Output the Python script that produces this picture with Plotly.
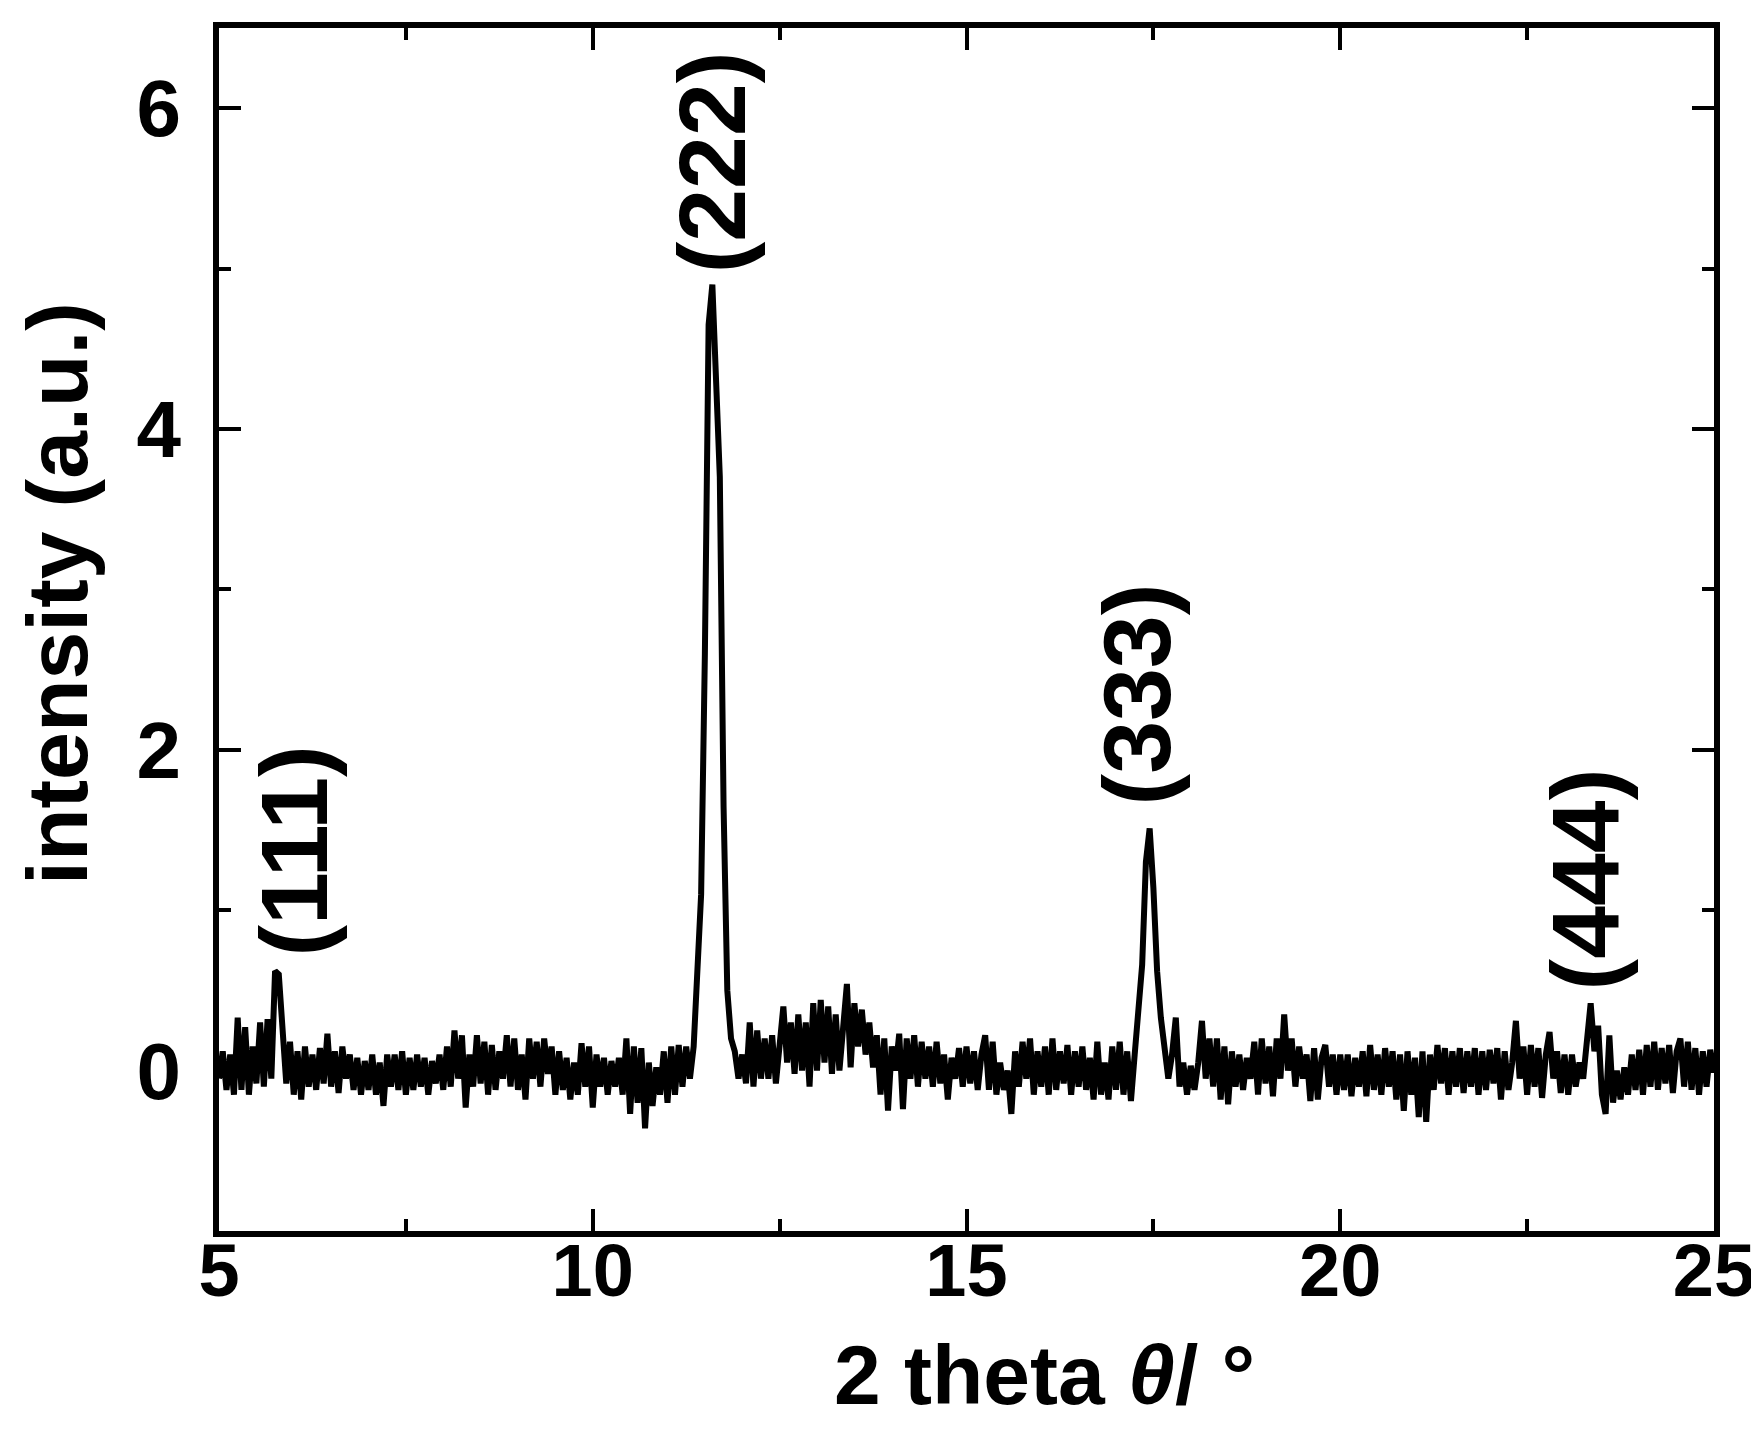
import plotly.graph_objects as go

# intensity, 0.05 deg steps, one list per degree of 2 theta
seg_05 = [-0.05, 0.12, -0.12, 0.10, -0.15, 0.33, -0.12, 0.27, -0.15, 0.15,
          -0.08, 0.30, -0.10, 0.32, -0.05, 0.62, 0.60, 0.20, -0.08, 0.18]
seg_06 = [-0.15, 0.12, -0.18, 0.15, -0.10, 0.10, -0.12, 0.14, -0.08, 0.23,
          -0.10, 0.12, -0.14, 0.15, -0.05, 0.10, -0.12, 0.08, -0.15, 0.06]
seg_07 = [-0.12, 0.10, -0.15, 0.05, -0.22, 0.10, -0.10, 0.10, -0.12, 0.12,
          -0.15, 0.08, -0.12, 0.10, -0.10, 0.08, -0.15, 0.06, -0.08, 0.10]
seg_08 = [-0.12, 0.15, -0.10, 0.25, -0.05, 0.22, -0.23, 0.10, -0.10, 0.22,
          -0.08, 0.18, -0.15, 0.16, -0.12, 0.12, -0.05, 0.22, -0.10, 0.20]
seg_09 = [-0.12, 0.10, -0.18, 0.20, -0.05, 0.18, -0.10, 0.20, -0.02, 0.15,
          -0.15, 0.12, -0.12, 0.08, -0.18, 0.05, -0.15, 0.17, -0.10, 0.15]
seg_10 = [-0.23, 0.10, -0.10, 0.08, -0.15, 0.06, -0.10, 0.08, -0.15, 0.20,
          -0.27, 0.15, -0.20, 0.14, -0.36, 0.05, -0.22, 0.02, -0.15, 0.12]
seg_11 = [-0.20, 0.15, -0.15, 0.16, -0.10, 0.15, -0.05, 0.15, 0.55, 1.10,
          2.60, 4.65, 4.90, 4.25, 3.70, 1.65, 0.50, 0.20, 0.12, -0.05]
seg_12 = [0.10, -0.08, 0.30, -0.10, 0.25, -0.05, 0.20, -0.05, 0.22, -0.08,
          0.15, 0.40, 0.05, 0.30, -0.02, 0.35, 0.00, 0.30, -0.10, 0.42]
seg_13 = [0.00, 0.44, 0.05, 0.40, -0.02, 0.35, 0.00, 0.30, 0.54, 0.02,
          0.42, 0.15, 0.38, 0.10, 0.30, 0.02, 0.22, -0.15, 0.20, -0.25]
seg_14 = [0.15, 0.00, 0.23, -0.24, 0.20, -0.05, 0.22, -0.10, 0.18, -0.05,
          0.15, -0.10, 0.18, -0.08, 0.10, -0.18, 0.08, -0.05, 0.14, -0.10]
seg_15 = [0.15, -0.08, 0.12, -0.12, 0.10, 0.22, -0.12, 0.18, -0.15, 0.05,
          -0.12, 0.00, -0.27, 0.12, -0.10, 0.18, -0.05, 0.20, -0.15, 0.12]
seg_16 = [-0.10, 0.15, -0.15, 0.20, -0.12, 0.12, -0.08, 0.16, -0.15, 0.12,
          -0.10, 0.15, -0.12, 0.08, -0.18, 0.18, -0.15, 0.05, -0.18, 0.15]
seg_17 = [-0.12, 0.18, -0.15, 0.12, -0.19, 0.10, 0.35, 0.66, 1.30, 1.51,
          1.14, 0.62, 0.33, 0.10, -0.05, 0.10, 0.33, -0.10, 0.05, -0.15]
seg_18 = [0.03, -0.12, 0.05, 0.31, -0.05, 0.20, -0.10, 0.20, -0.18, 0.15,
          -0.21, 0.12, -0.10, 0.10, -0.12, 0.08, -0.05, 0.18, -0.15, 0.20]
seg_19 = [-0.08, 0.15, -0.16, 0.20, -0.05, 0.35, 0.00, 0.20, -0.10, 0.15,
          -0.05, 0.10, -0.19, 0.14, -0.18, 0.08, 0.16, -0.10, 0.10, -0.15]
seg_20 = [0.10, -0.12, 0.10, -0.16, 0.08, -0.10, 0.12, -0.16, 0.16, -0.12,
          0.10, -0.15, 0.14, -0.10, 0.12, -0.18, 0.10, -0.25, 0.12, -0.15]
seg_21 = [0.08, -0.29, 0.12, -0.32, 0.10, -0.12, 0.16, -0.08, 0.14, -0.15,
          0.12, -0.10, 0.14, -0.14, 0.12, -0.10, 0.14, -0.15, 0.12, -0.12]
seg_22 = [0.13, -0.08, 0.14, -0.18, 0.12, -0.12, 0.05, 0.31, -0.05, 0.15,
          -0.15, 0.16, -0.10, 0.14, -0.17, 0.10, 0.24, -0.05, 0.12, -0.14]
seg_23 = [0.10, -0.15, 0.10, -0.10, 0.05, -0.05, 0.20, 0.42, 0.12, 0.28,
          -0.15, -0.27, 0.22, -0.20, 0.00, -0.18, 0.02, -0.15, 0.10, -0.12]
seg_24 = [0.13, -0.15, 0.16, -0.10, 0.18, -0.12, 0.14, -0.08, 0.16, -0.14,
          0.12, 0.20, -0.10, 0.18, -0.12, 0.14, -0.15, 0.12, -0.10, 0.13]
end_25 = [0.00]

intensity = (seg_05 + seg_06 + seg_07 + seg_08 + seg_09 + seg_10 + seg_11 + seg_12
             + seg_13 + seg_14 + seg_15 + seg_16 + seg_17 + seg_18 + seg_19 + seg_20
             + seg_21 + seg_22 + seg_23 + seg_24 + end_25)
# scan grid: 5 deg start, 0.05 deg step
two_theta = [round(5 + 0.05 * i, 2) for i in range(len(intensity))]

# reflection labels and where they sit
peak_labels = ['(111)', '(222)', '(333)', '(444)']
peak_x = [6.0, 11.6, 17.28, 23.28]
peak_y = [0.70, 4.96, 1.64, 0.49]

FONT = 'Liberation Sans, Arial, sans-serif'
BOLD = dict(family=FONT, color='black', weight='bold')

fig = go.Figure()
fig.add_trace(go.Scatter(x=two_theta, y=intensity, mode='lines',
                         line=dict(color='black', width=6), showlegend=False))

for text, px_, py_ in zip(peak_labels, peak_x, peak_y):
    fig.add_annotation(x=px_, y=py_, xref='x', yref='y', text=text, textangle=-90,
                       showarrow=False, xanchor='center', yanchor='bottom',
                       font=dict(size=95, **BOLD))

# axis titles as annotations so they can sit exactly where the original has them
fig.add_annotation(x=0.552, y=-0.12, xref='paper', yref='paper',
                   text='2 theta <i>θ</i>/ °', showarrow=False,
                   xanchor='center', yanchor='middle', font=dict(size=84, **BOLD))
fig.add_annotation(x=-0.108, y=0.53, xref='paper', yref='paper',
                   text='intensity (a.u.)', textangle=-90, showarrow=False,
                   xanchor='center', yanchor='middle', font=dict(size=86, **BOLD))

axis_common = dict(showline=True, linecolor='black', linewidth=6, mirror='ticks',
                   ticks='inside', ticklen=22, tickwidth=4, tickcolor='black',
                   showgrid=False, zeroline=False)

fig.update_xaxes(range=[5, 25], tick0=5, dtick=5,
                 minor=dict(dtick=2.5, ticks='inside', ticklen=12, tickwidth=4,
                            tickcolor='black', showgrid=False),
                 tickfont=dict(size=74, **BOLD), ticklabelstandoff=-30,
                 **axis_common)
fig.update_yaxes(range=[-1, 6.5], tick0=0, dtick=2,
                 minor=dict(dtick=1, ticks='inside', ticklen=12, tickwidth=4,
                            tickcolor='black', showgrid=False),
                 tickfont=dict(size=80, **BOLD), ticklabelstandoff=16,
                 **axis_common)

fig.update_layout(width=1759, height=1449,
                  margin=dict(l=211, r=50, t=20, b=226),
                  plot_bgcolor='white', paper_bgcolor='white')

fig.write_html("out.html")
